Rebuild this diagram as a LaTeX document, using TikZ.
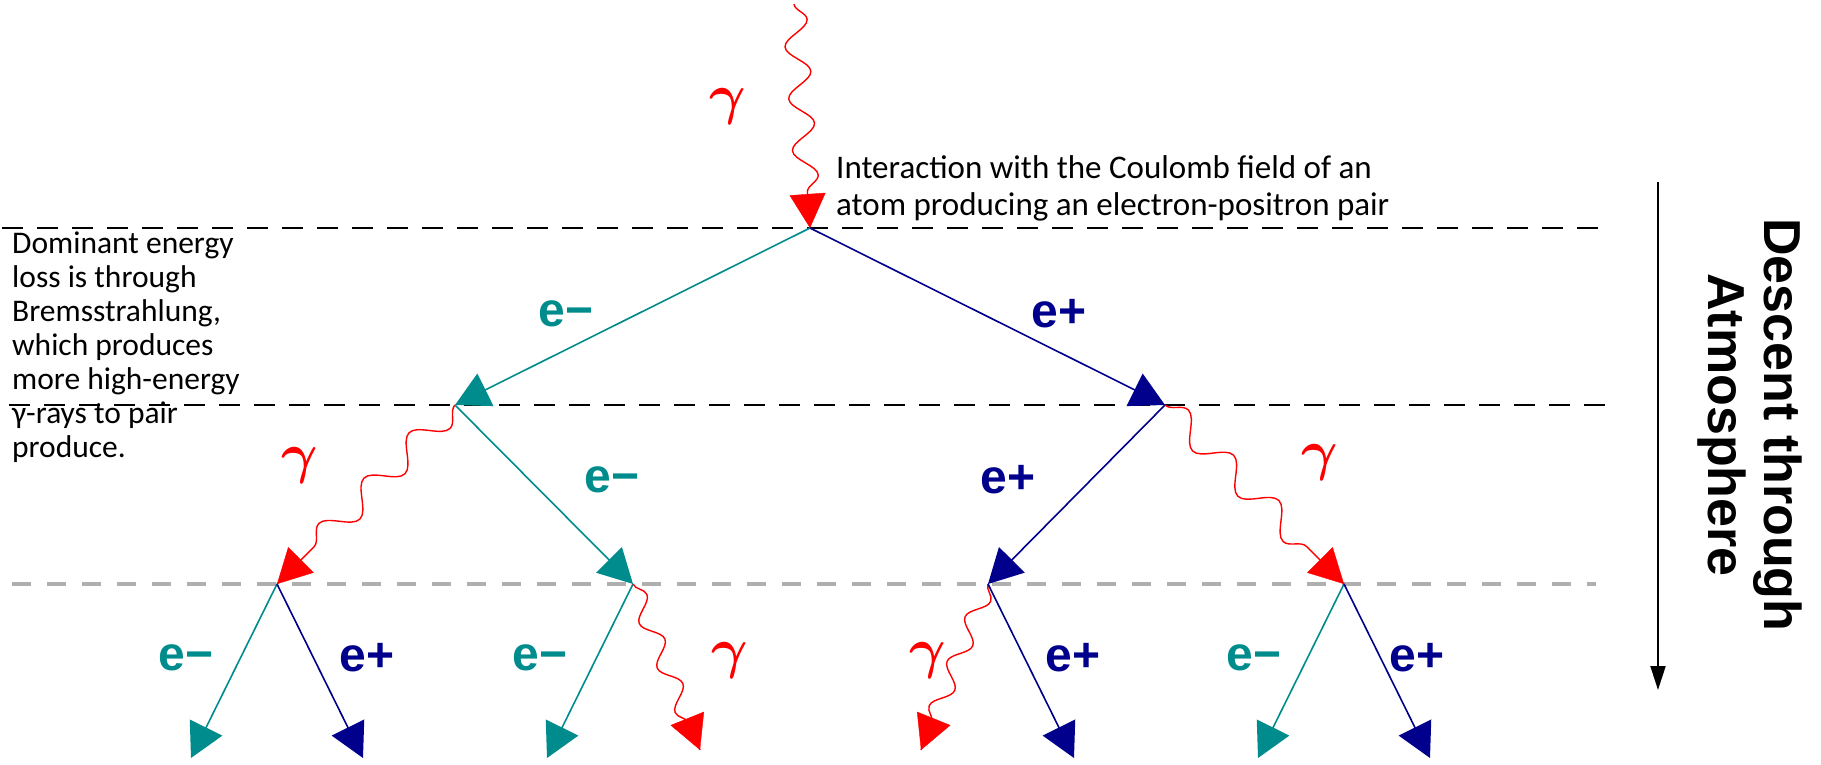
\documentclass[tikz,border=0pt]{standalone}
\usepackage{fontspec}
\setmainfont{Carlito}
\newfontfamily\arialfont{Liberation Sans}
\usetikzlibrary{arrows.meta,decorations.pathmorphing,decorations.markings}
\definecolor{eminus}{RGB}{0,140,140}
\definecolor{eplus}{RGB}{0,0,140}
\definecolor{photonred}{RGB}{255,0,0}
\definecolor{layergray}{RGB}{175,175,175}

\begin{document}
\begin{tikzpicture}[x=1pt,y=-1pt,
  tip/.style={-{Triangle[length=34pt,width=36pt]}},
  electron/.style={draw=eminus, line width=1.6pt, tip},
  positron/.style={draw=eplus, line width=1.6pt, tip},
  photon/.style n args={2}{
    postaction={draw=photonred, line width=1.4pt, decorate,
      decoration={snake, amplitude=#1, segment length=#2, post length=26pt}},
    postaction={decorate,
      decoration={markings, mark=at position 1 with
        {\arrow[color=photonred, fill=photonred]{Triangle[length=34pt,width=36pt]}}}}},
  layer/.style={draw=black, line width=2.7pt, dash pattern=on 21pt off 14pt},
  layerlight/.style={draw=layergray, line width=4.5pt, dash pattern=on 19pt off 16pt},
  elabel/.style={font=\arialfont\bfseries\fontsize{48}{48}\selectfont, inner sep=0pt},
  glabel/.style={font=\huge\boldmath, scale=2.7, text=photonred, inner sep=0pt},
  note/.style={align=left, inner sep=0pt},
]
\useasboundingbox (0,0) rectangle (1821,765);

% interaction vertices
\coordinate (src) at (794,4);
\coordinate (v0) at (810,228);
\coordinate (v1) at (455,405);
\coordinate (v2) at (1165,405);
\coordinate (v3) at (277,584);
\coordinate (v4) at (633,584);
\coordinate (v5) at (988,584);
\coordinate (v6) at (1344,584);
% outgoing ends of the last generation
\coordinate (a1) at (191,758);
\coordinate (a2) at (363,758);
\coordinate (b1) at (547,758);
\coordinate (b2) at (700,750);
\coordinate (c1) at (921,750);
\coordinate (c2) at (1074,758);
\coordinate (d1) at (1258,758);
\coordinate (d2) at (1430,758);

% depth levels
\coordinate (l1a) at (2,228);   \coordinate (l1b) at (1612,228);
\coordinate (l2a) at (9,405);   \coordinate (l2b) at (1612,405);
\coordinate (l3a) at (12,584);  \coordinate (l3b) at (1596,584);
\draw[layer] (l1a) -- (l1b);
\draw[layer] (l2a) -- (l2b);
\draw[layerlight] (l3a) -- (l3b);

% primary photon and first pair
\path[photon={12pt}{52pt}] (src) -- (v0);
\draw[electron] (v0) -- (v1);
\draw[positron] (v0) -- (v2);

% second generation
\path[photon={13pt}{64pt}] (v1) -- (v3);
\draw[electron] (v1) -- (v4);
\draw[positron] (v2) -- (v5);
\path[photon={13pt}{64pt}] (v2) -- (v6);

% third generation
\draw[electron] (v3) -- (a1);
\draw[positron] (v3) -- (a2);
\draw[electron] (v4) -- (b1);
\path[photon={9pt}{48pt}] (v4) -- (b2);
\path[photon={9pt}{48pt}] (v5) -- (c1);
\draw[positron] (v5) -- (c2);
\draw[electron] (v6) -- (d1);
\draw[positron] (v6) -- (d2);

% particle labels
\node[glabel] (g0) at (728,107) {$\gamma$};
\node[elabel, text=eminus] (m1) at (566,314) {e−};
\node[elabel, text=eplus] (p1) at (1059,314) {e+};
\node[glabel] (g1) at (300,465) {$\gamma$};
\node[elabel, text=eminus] (m2) at (612,480) {e−};
\node[elabel, text=eplus] (p2) at (1008,480) {e+};
\node[glabel] (g2) at (1320,462) {$\gamma$};
\node[elabel, text=eminus] (m3) at (186,658) {e−};
\node[elabel, text=eplus] (p3) at (367,658) {e+};
\node[elabel, text=eminus] (m4) at (540,658) {e−};
\node[glabel] (g3) at (730,660) {$\gamma$};
\node[glabel] (g4) at (928,660) {$\gamma$};
\node[elabel, text=eplus] (p4) at (1073,658) {e+};
\node[elabel, text=eminus] (m5) at (1254,658) {e−};
\node[elabel, text=eplus] (p5) at (1417,658) {e+};

% annotations
\node[note, anchor=west, font=\fontsize{33}{37}\selectfont] (coulomb) at (836,188)
  {Interaction with the Coulomb field of an\\atom producing an electron-positron pair};
\node[note, anchor=west, font=\fontsize{31.5}{34}\selectfont] (brems) at (12,347)
  {Dominant energy\\loss is through\\Bremsstrahlung,\\which produces\\more high-energy\\γ-rays to pair\\produce.};

% descent axis
\coordinate (dtop) at (1658,182);
\coordinate (dbot) at (1658,690);
\draw[line width=2pt, -{Triangle[length=24pt,width=15pt]}] (dtop) -- (dbot);
\node[rotate=-90, font=\arialfont\bfseries\fontsize{52}{56}\selectfont, align=center]
  (descent) at (1750,425) {Descent through\\Atmosphere};
\end{tikzpicture}
\end{document}
